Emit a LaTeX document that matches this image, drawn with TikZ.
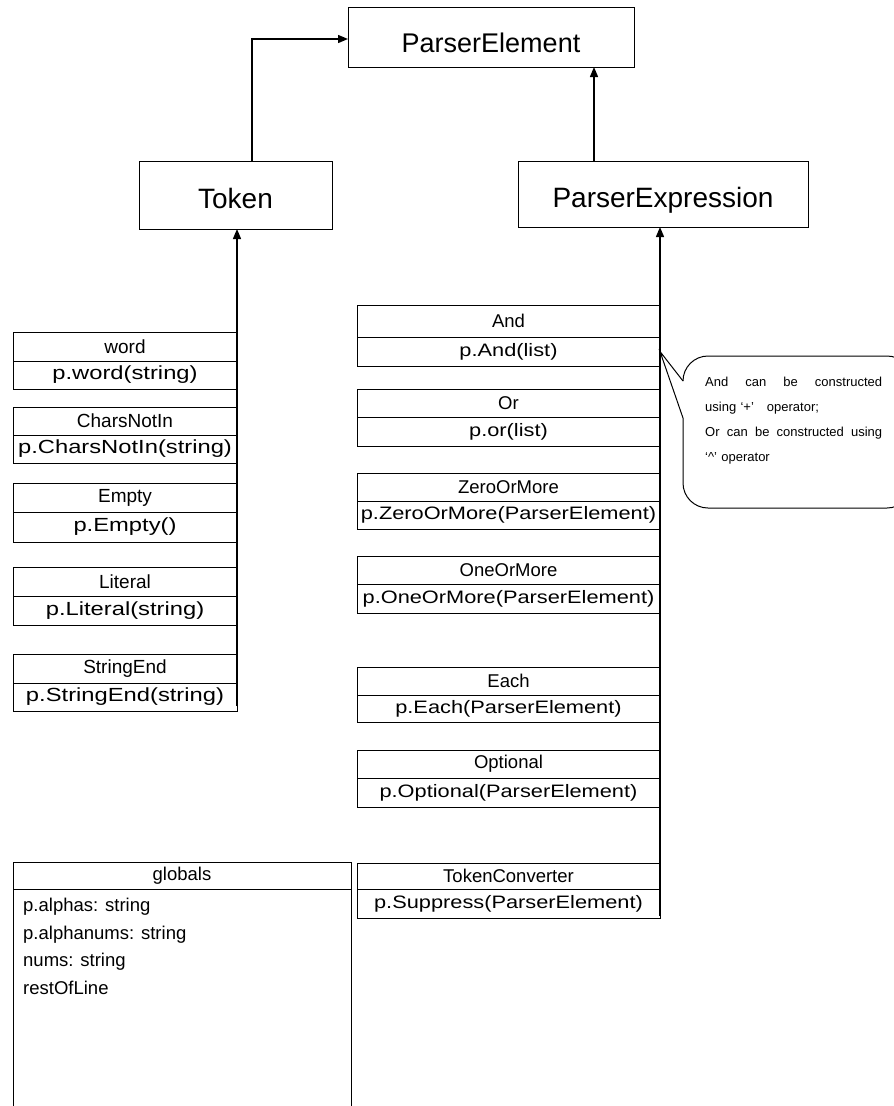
\documentclass[tikz,border=0pt]{standalone}
\usepackage{fontspec}
\setmainfont{Liberation Sans}
\newfontfamily\ltfont{Liberation Sans}
\newfontfamily\lmfont[FakeStretch=1.25]{Liberation Sans}
\newfontfamily\rtfont{Liberation Sans}
\newfontfamily\rmfont[FakeStretch=1.21]{Liberation Sans}
\usetikzlibrary{arrows.meta}
\tikzset{
  cell/.style={draw, line width=1pt, inner sep=0pt, outer sep=0pt, anchor=north west},
  lcell/.style={cell, minimum width=224pt, font=\ltfont\fontsize{19}{22}\selectfont},
  lmeth/.style={cell, minimum width=224pt, font=\lmfont\fontsize{19}{22}\selectfont},
  rcell/.style={cell, minimum width=303pt, font=\rtfont\fontsize{18.5}{21}\selectfont},
  rmeth/.style={cell, minimum width=303pt, font=\rmfont\fontsize{18}{21}\selectfont},
  gcell/.style={cell, minimum width=338pt, font=\fontsize{18.5}{22}\selectfont},
  big/.style={draw, line width=1pt, inner sep=0pt, outer sep=0pt, anchor=north west,
    font=\fontsize{28}{32}\selectfont, text height=26pt, text depth=0pt},
  arr/.style={line width=1.4pt, -{Triangle[length=10pt,width=8pt]}},
}
\begin{document}
\begin{tikzpicture}[x=1pt,y=-1pt]
\useasboundingbox (0,0) rectangle (894,1106);
\clip (0,0) rectangle (894,1106);
% top level
\node[big, minimum width=286pt, minimum height=60pt, font=\fontsize{27}{31}\selectfont, text height=30pt] (pe) at (348,7) {ParserElement};
\node[big, minimum width=193pt, minimum height=68pt] (tok) at (139,161) {Token};
\node[big, minimum width=290pt, minimum height=66pt] (pex) at (518,161) {ParserExpression};
% left column
\node[lcell, minimum height=29pt] (word) at (13,332) {word};
\node[lmeth, minimum height=28pt] (wordm) at (13,361) {p.word(string)};
\node[lcell, minimum height=28pt] (cni) at (13,407) {CharsNotIn};
\node[lmeth, minimum height=28pt] (cnim) at (13,435) {p.CharsNotIn(string)};
\node[lcell, minimum height=29pt] (emp) at (13,483) {Empty};
\node[lmeth, minimum height=30pt] (empm) at (13,512) {p.Empty()};
\node[lcell, minimum height=29pt] (lit) at (13,567) {Literal};
\node[lmeth, minimum height=29pt] (litm) at (13,596) {p.Literal(string)};
\node[lcell, minimum height=29pt] (se) at (13,654) {StringEnd};
\node[lmeth, minimum height=28pt] (sem) at (13,683) {p.StringEnd(string)};
% right column
\node[rcell, minimum height=32pt] (and) at (357,305) {And};
\node[rmeth, minimum height=29pt] (andm) at (357,337) {p.And(list)};
\node[rcell, minimum height=28pt] (or) at (357,389) {Or};
\node[rmeth, minimum height=29pt] (orm) at (357,417) {p.or(list)};
\node[rcell, minimum height=28pt] (zom) at (357,473) {ZeroOrMore};
\node[rmeth, minimum height=28pt] (zomm) at (357,501) {p.ZeroOrMore(ParserElement)};
\node[rcell, minimum height=28pt] (oom) at (357,556) {OneOrMore};
\node[rmeth, minimum height=29pt] (oomm) at (357,584) {p.OneOrMore(ParserElement)};
\node[rcell, minimum height=28pt] (each) at (357,667) {Each};
\node[rmeth, minimum height=27pt] (eachm) at (357,695) {p.Each(ParserElement)};
\node[rcell, minimum height=28pt] (opt) at (357,750) {Optional};
\node[rmeth, minimum height=29pt] (optm) at (357,778) {p.Optional(ParserElement)};
\node[rcell, minimum height=26pt] (tc) at (357,863) {TokenConverter};
\node[rmeth, minimum height=29pt] (tcm) at (357,889) {p.Suppress(ParserElement)};
% globals
\node[gcell, minimum height=27pt] (glob) at (13,862) {globals};
\node[gcell, minimum height=260pt] (globb) at (13,889) {};
\node[anchor=north west, inner sep=0pt, align=left, font=\fontsize{18.5}{27.5}\selectfont] (globt) at (23,898)
  {p.alphas: string\\p.alphanums: string\\nums: string\\restOfLine};
% connectors
\coordinate (c1) at (594,0);
\draw[arr] ([xshift=113pt]tok.north west) |- ([yshift=-2pt]pe.west);
\draw[arr] (pex.north -| c1) -- (pe.south -| c1);
\draw[arr] ([yshift=5pt]sem.south east) -- (tok.south -| sem.south east);
\draw[arr] ([yshift=2pt]tcm.south east) -- (pex.south -| tcm.south east);
% callout
\draw[line width=1pt, rounded corners=25pt] (683,418) -- (683,508) -- (912,508) -- (912,356) -- (683,356) -- (683,381);
\draw[line width=1pt] (683,381) -- (andm.east) -- (683,418);
\node[anchor=north west, inner sep=0pt, text width=177pt, align=left,
  font=\fontsize{13}{25}\selectfont] (note) at (705,377)
  {\leavevmode\hbox to 177pt{And\hfill can\hfill be\hfill constructed}\\
   using ‘+’\quad operator;\\
   \leavevmode\hbox to 177pt{Or\hfill can\hfill be\hfill constructed\hfill using}\\
   ‘\^{}’ operator};
\end{tikzpicture}
\end{document}
